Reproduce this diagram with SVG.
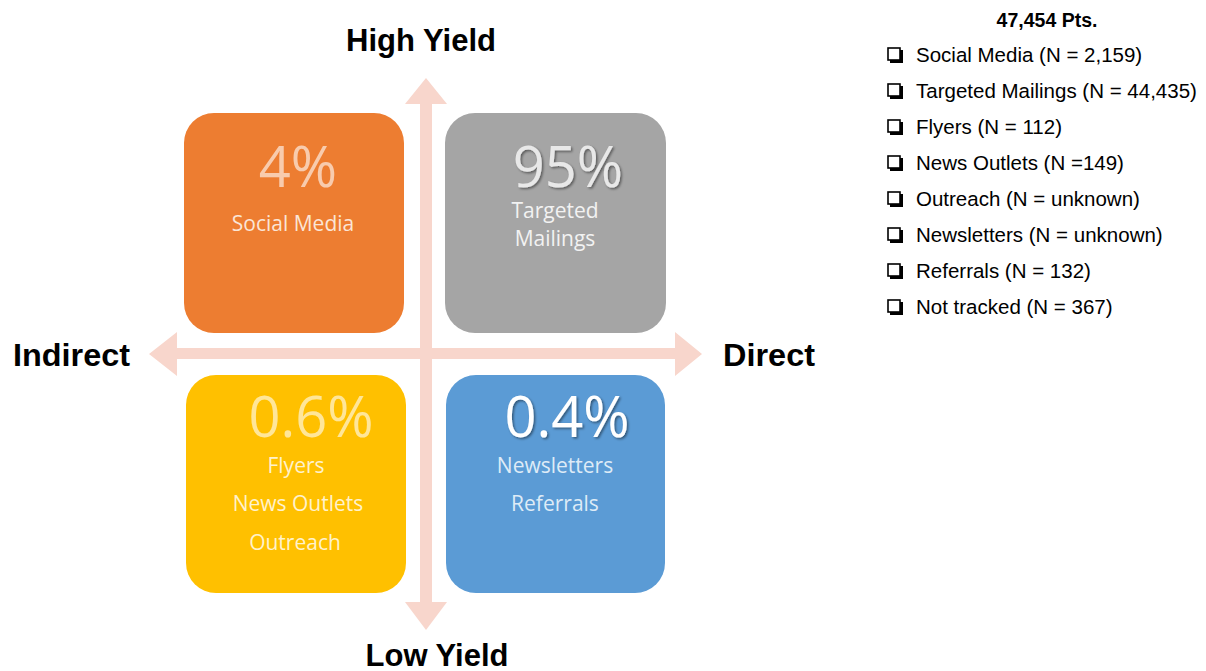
<svg xmlns="http://www.w3.org/2000/svg" width="1206" height="671" viewBox="0 0 1206 671">
<defs>
<filter id="sh" x="-20%" y="-20%" width="140%" height="140%">
<feDropShadow dx="1.5" dy="1.5" stdDeviation="1" flood-color="#000" flood-opacity="0.45"/>
</filter>
<style>
.axis{font-family:"Liberation Sans",Arial,sans-serif;font-weight:bold;font-size:31px;fill:#000}
.pct{font-family:"Open Sans","Liberation Sans",sans-serif;font-size:56px;text-anchor:middle}
.lbl{font-family:"Open Sans","Liberation Sans",sans-serif;font-size:21px;text-anchor:middle}
.leg{font-family:"Liberation Sans",Arial,sans-serif;font-size:20.5px;fill:#000}
.arr{fill:#F8D6CC}
.cb{fill:#fff;stroke:#000;stroke-width:1.6}
</style>
</defs>
<rect width="1206" height="671" fill="#fff"/>
<g id="connectors">
<polygon class="arr" points="426,78 447,104 432,104 432,602 447,602 426,630 405,602 420,602 420,104 405,104"/>
<polygon class="arr" points="149,354 177,332 177,348 675,348 675,332 702,354 675,376 675,359 177,359 177,376"/>
</g>
<g id="axis-labels">
<text class="axis" x="421" y="51" text-anchor="middle" textLength="150" lengthAdjust="spacingAndGlyphs">High Yield</text>
<text class="axis" x="13" y="366" textLength="117" lengthAdjust="spacingAndGlyphs">Indirect</text>
<text class="axis" x="723" y="366" textLength="92" lengthAdjust="spacingAndGlyphs">Direct</text>
<text class="axis" x="437" y="666" text-anchor="middle" textLength="143" lengthAdjust="spacingAndGlyphs">Low Yield</text>
</g>
<g id="social-media">
<rect x="184" y="113" width="220" height="220" rx="30" fill="#ED7D31"/>
<text class="pct" x="298" y="187" fill="#F8CBAD">4%</text>
<text class="lbl" x="293" y="231" fill="#FBE5D6">Social Media</text>
</g>
<g id="targeted-mailings">
<rect x="445" y="113" width="221" height="220" rx="30" fill="#A5A5A5"/>
<text class="pct" x="568" y="187" fill="#E8E8E8" filter="url(#sh)">95%</text>
<text class="lbl" x="555" y="218" fill="#F2F2F2">Targeted</text>
<text class="lbl" x="555" y="246" fill="#F2F2F2">Mailings</text>
</g>
<g id="flyers-news-outreach">
<rect x="186" y="375" width="220" height="218" rx="30" fill="#FFC000"/>
<text class="pct" x="311" y="437" fill="#FFE699">0.6%</text>
<text class="lbl" x="296" y="473" fill="#FFF2CC">Flyers</text>
<text class="lbl" x="298" y="511" fill="#FFF2CC">News Outlets</text>
<text class="lbl" x="295" y="550" fill="#FFF2CC">Outreach</text>
</g>
<g id="newsletters-referrals">
<rect x="446" y="375" width="219" height="218" rx="30" fill="#5B9BD5"/>
<text class="pct" x="567" y="437" fill="#FFFFFF" filter="url(#sh)">0.4%</text>
<text class="lbl" x="555" y="473" fill="#DEEBF7">Newsletters</text>
<text class="lbl" x="555" y="511" fill="#DEEBF7">Referrals</text>
</g>
<g id="legend">
<text x="1047" y="27" text-anchor="middle" font-family="Liberation Sans, Arial, sans-serif" font-weight="bold" font-size="19.5" fill="#000">47,454 Pts.</text>
<g id="legend-boxes">
<rect x="890" y="50" width="13" height="13" fill="#000"/><rect class="cb" x="888" y="48" width="12" height="12"/>
<rect x="890" y="86" width="13" height="13" fill="#000"/><rect class="cb" x="888" y="84" width="12" height="12"/>
<rect x="890" y="122" width="13" height="13" fill="#000"/><rect class="cb" x="888" y="120" width="12" height="12"/>
<rect x="890" y="158" width="13" height="13" fill="#000"/><rect class="cb" x="888" y="156" width="12" height="12"/>
<rect x="890" y="194" width="13" height="13" fill="#000"/><rect class="cb" x="888" y="192" width="12" height="12"/>
<rect x="890" y="230" width="13" height="13" fill="#000"/><rect class="cb" x="888" y="228" width="12" height="12"/>
<rect x="890" y="266" width="13" height="13" fill="#000"/><rect class="cb" x="888" y="264" width="12" height="12"/>
<rect x="890" y="302" width="13" height="13" fill="#000"/><rect class="cb" x="888" y="300" width="12" height="12"/>
</g>
<text class="leg" x="916" y="62">Social Media (N = 2,159)</text>
<text class="leg" x="916" y="98">Targeted Mailings (N = 44,435)</text>
<text class="leg" x="916" y="134">Flyers (N = 112)</text>
<text class="leg" x="916" y="170">News Outlets (N =149)</text>
<text class="leg" x="916" y="206">Outreach (N = unknown)</text>
<text class="leg" x="916" y="242">Newsletters (N = unknown)</text>
<text class="leg" x="916" y="278">Referrals  (N = 132)</text>
<text class="leg" x="916" y="314">Not tracked (N = 367)</text>
</g>
</svg>
